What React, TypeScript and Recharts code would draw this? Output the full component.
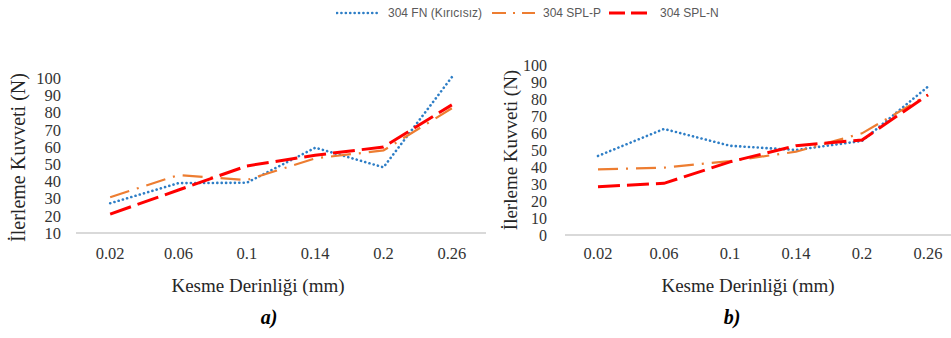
import { LineChart, Line, XAxis, YAxis } from "recharts"

const categories = ["0.02", "0.06", "0.1", "0.14", "0.2", "0.26"]

// a) panel
const fnA = [27.3, 39, 39.2, 59.6, 48.2, 100.6]
const splPA = [30.8, 43.7, 40.8, 53.4, 58, 82.5]
const splNA = [21, 35, 49, 55.2, 60, 84.5]

// b) panel
const fnB = [46.5, 62.4, 52.5, 50, 55.3, 87.3]
const splPB = [38.6, 39.6, 43.5, 49, 59.8, 82.5]
const splNB = [28.4, 30.4, 43, 52.5, 55.9, 82.4]

const ticksA = [10, 20, 30, 40, 50, 60, 70, 80, 90, 100]
const ticksB = [0, 10, 20, 30, 40, 50, 60, 70, 80, 90, 100]

const series = [
  { key: "fn", name: "304 FN (Kırıcısız)", color: "#2e7ec6", width: 2.6, dash: "0.1 4.3", cap: "round" as const },
  { key: "p", name: "304 SPL-P", color: "#ed7d31", width: 2.2, dash: "20 8 2 8", cap: "butt" as const },
  { key: "n", name: "304 SPL-N", color: "#ff0000", width: 3, dash: "22 7", cap: "butt" as const },
]

const buildRows = (fn: number[], p: number[], n: number[]) =>
  categories.map((c, i) => ({ depth: c, fn: fn[i], p: p[i], n: n[i] }))

const serif = "Liberation Serif, Times New Roman, serif"
const H = 338

interface PanelProps {
  rows: { depth: string; fn: number; p: number; n: number }[]
  domain: [number, number]
  ticks: number[]
  left: number
  yAxisWidth: number
  plotWidth: number
  top: number
  axisY: number
  xTickMargin: number
  yTickMargin: number
  yTickSize: number
  yTitle: [number, number]
  yTitleSize: number
  xTitle: [number, number]
}

function Panel(props: PanelProps) {
  const { rows, domain, ticks, left, yAxisWidth, plotWidth, top, axisY, xTickMargin, yTickMargin, yTickSize, yTitle, yTitleSize, xTitle } = props
  const xAxisHeight = 30
  const xTick = { fill: "#333", fontSize: 16.5, fontFamily: serif, style: { fontFamily: serif } }
  const yTick = { ...xTick, fontSize: yTickSize }
  return (
    <div style={{ position: "absolute", left, top: 0, fontFamily: serif }}>
      <LineChart
        width={yAxisWidth + plotWidth}
        height={H}
        data={rows}
        style={{ fontFamily: serif }}
        margin={{ top, right: 0, left: 0, bottom: H - axisY - xAxisHeight }}
      >
        <XAxis
          dataKey="depth"
          scale="band"
          height={xAxisHeight}
          axisLine={{ stroke: "#d9d9d9", strokeWidth: 2 }}
          tickLine={false}
          tickSize={0}
          tickMargin={xTickMargin}
          tick={xTick}
          interval={0}
          label={() => (
            <text
              x={xTitle[0]}
              y={xTitle[1]}
              textAnchor="middle"
              dominantBaseline="central"
              fill="#262626"
              fontSize={19}
              style={{ fontFamily: serif }}
            >
              Kesme Derinliği (mm)
            </text>
          )}
        />
        <YAxis
          width={yAxisWidth}
          domain={domain}
          ticks={ticks}
          allowDataOverflow
          axisLine={false}
          tickLine={false}
          tickSize={0}
          tickMargin={yTickMargin}
          tick={yTick}
          interval={0}
          label={() => (
            <text
              x={yTitle[0]}
              y={yTitle[1]}
              transform={`rotate(-90 ${yTitle[0]} ${yTitle[1]})`}
              textAnchor="middle"
              dominantBaseline="central"
              fill="#262626"
              fontSize={yTitleSize}
              style={{ fontFamily: serif }}
            >
              İlerleme Kuvveti (N)
            </text>
          )}
        />
        {series.map((s) => (
          <Line
            key={s.key}
            type="linear"
            dataKey={s.key}
            name={s.name}
            stroke={s.color}
            strokeWidth={s.width}
            strokeDasharray={s.dash}
            strokeLinecap={s.cap}
            dot={false}
            activeDot={false}
            isAnimationActive={false}
          />
        ))}
      </LineChart>
    </div>
  )
}

const legendLeft = [336, 491, 608]

function TopLegend() {
  return (
    <>
      {series.map((s, i) => (
        <div
          key={s.key}
          style={{
            position: "absolute",
            left: legendLeft[i],
            top: 4,
            height: 18,
            display: "flex",
            alignItems: "center",
            fontFamily: "Liberation Sans, Arial, sans-serif",
            fontSize: 12,
            color: "#595959",
            whiteSpace: "nowrap",
          }}
        >
          <svg width={45} height={10} style={{ marginRight: 7 }}>
            <line
              x1={1}
              y1={5}
              x2={44}
              y2={5}
              stroke={s.color}
              strokeWidth={s.width}
              strokeDasharray={s.key === "p" ? "14 7 2 7" : s.key === "n" ? "16 6" : s.dash}
              strokeLinecap={s.cap}
            />
          </svg>
          {s.name}
        </div>
      ))}
    </>
  )
}

const captionStyle = {
  position: "absolute" as const,
  top: 306,
  width: 40,
  textAlign: "center" as const,
  fontFamily: serif,
  fontWeight: "bold" as const,
  fontStyle: "italic" as const,
  fontSize: 20,
  color: "#000",
}

export default function App() {
  return (
    <div
      style={{
        position: "absolute",
        left: 0,
        top: 0,
        width: 951,
        height: H,
        overflow: "hidden",
        background: "#fff",
        fontFamily: serif,
      }}
    >
      <Panel
        rows={buildRows(fnA, splPA, splNA)}
        domain={[10, 110]}
        ticks={ticksA}
        left={0}
        yAxisWidth={76}
        plotWidth={410}
        top={61}
        axisY={233}
        xTickMargin={14}
        yTickMargin={15}
        yTickSize={16.5}
        yTitle={[17.5, 157.5]}
        yTitleSize={20}
        xTitle={[258, 285]}
      />
      <Panel
        rows={buildRows(fnB, splPB, splNB)}
        domain={[0, 100]}
        ticks={ticksB}
        left={470}
        yAxisWidth={95}
        plotWidth={396}
        top={65}
        axisY={235}
        xTickMargin={12.5}
        yTickMargin={18}
        yTickSize={16}
        yTitle={[40, 150]}
        yTitleSize={19}
        xTitle={[278, 285]}
      />
      <TopLegend />
      <div style={{ ...captionStyle, left: 249 }}>a)</div>
      <div style={{ ...captionStyle, left: 712 }}>b)</div>
    </div>
  )
}
